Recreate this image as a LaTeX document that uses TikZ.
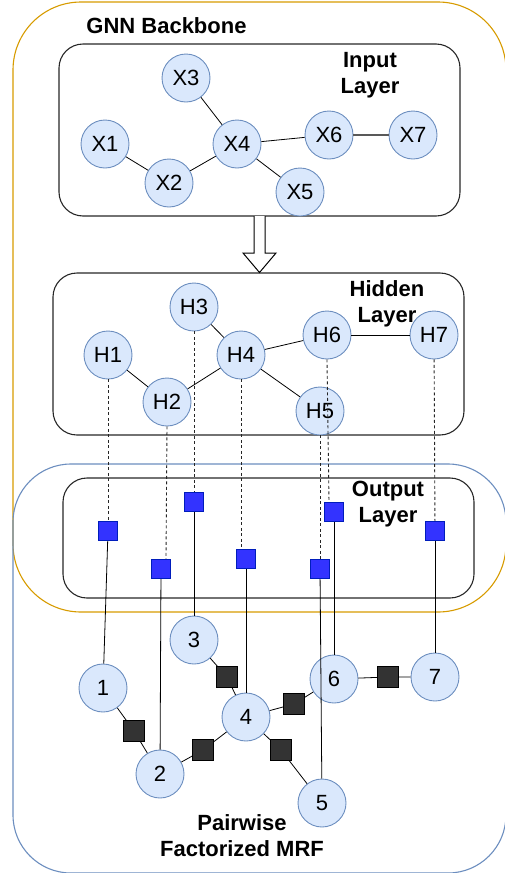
\documentclass[tikz,border=0pt]{standalone}
\usepackage{fontspec}
\setmainfont{Liberation Sans}
\usetikzlibrary{positioning}

\definecolor{varfill}{HTML}{DAE8FC}
\definecolor{varline}{HTML}{6C8EBF}
\definecolor{gnnorange}{HTML}{D79B00}
\definecolor{outblue}{HTML}{3333FF}
\definecolor{outblueline}{HTML}{001DBC}
\definecolor{factordark}{HTML}{333333}

\tikzset{
    var/.style={circle, draw=varline, fill=varfill, line width=0.9pt, minimum size=48pt, inner sep=0pt, font=\fontsize{22}{26}\selectfont},
    outsq/.style={rectangle, draw=outblueline, fill=outblue, line width=0.8pt, minimum size=19.5pt, inner sep=0pt},
    factor/.style={rectangle, draw=black, fill=factordark, line width=0.8pt, minimum size=20.5pt, inner sep=0pt},
    layerbox/.style={draw=black!85, line width=1.1pt, rounded corners=24pt},
    title/.style={font=\bfseries\fontsize{22}{26}\selectfont, align=center, inner sep=0pt},
    edge/.style={black, line width=0.8pt},
    dotline/.style={black!85, line width=0.9pt, dash pattern=on 3pt off 2.5pt}
}

\begin{document}
\begin{tikzpicture}[x=1pt, y=-1pt]
    \useasboundingbox (0,0) rectangle (505,873);

    % Outer frames
    \draw[gnnorange, line width=1.1pt, rounded corners=68pt] (13,2) rectangle (506,612);
    \draw[varline, line width=1.1pt, rounded corners=58pt] (13,464) rectangle (506,873);

    % Layers
    \draw[layerbox] (59,44) rectangle (460,216);
    \draw[layerbox] (53,273) rectangle (464,435);
    \draw[layerbox] (63,478) rectangle (474,598);

    % Hollow arrow between the layers
    \draw[line width=1pt, fill=white] (254,216) -- (254,253) -- (243,253) -- (259.5,272.5) -- (276,253) -- (265,253) -- (265,216);

    % Titles
    \node[title, anchor=base] (gnntitle) at (166.5,33) {GNN Backbone};
    \node[title] (inputtitle) at (370,75) {Input\\Layer};
    \node[title] (hiddentitle) at (387,304) {Hidden\\Layer};
    \node[title] (outputtitle) at (388,504) {Output\\Layer};
    \node[title] (mrftitle) at (242,836) {Pairwise\\Factorized MRF};

    % Input layer
    \node[var] (x1) at (105,144) {X1};
    \node[var] (x2) at (169,183) {X2};
    \node[var] (x3) at (186,78) {X3};
    \node[var] (x4) at (237,144) {X4};
    \node[var] (x5) at (300,192) {X5};
    \node[var] (x6) at (329,135) {X6};
    \node[var] (x7) at (413,135) {X7};

    % Hidden layer
    \node[var] (h1) at (108,355) {H1};
    \node[var] (h2) at (167,402) {H2};
    \node[var] (h3) at (194,307) {H3};
    \node[var] (h4) at (241,355) {H4};
    \node[var] (h5) at (320,411) {H5};
    \node[var] (h6) at (327,335) {H6};
    \node[var] (h7) at (434,335) {H7};

    % Output layer
    \node[outsq] (s1) at (108,531) {};
    \node[outsq] (s2) at (161,569) {};
    \node[outsq] (s3) at (194,502) {};
    \node[outsq] (s4) at (246,559) {};
    \node[outsq] (s5) at (320,569) {};
    \node[outsq] (s6) at (334,512) {};
    \node[outsq] (s7) at (435,531) {};

    % MRF variables and factors
    \node[var] (y1) at (103,688) {1};
    \node[var] (y2) at (160,774) {2};
    \node[var] (y3) at (194,640) {3};
    \node[var] (y4) at (246,717) {4};
    \node[var] (y5) at (322,803) {5};
    \node[var] (y6) at (334,679) {6};
    \node[var] (y7) at (435,677) {7};
    \node[factor] (f12) at (134,731) {};
    \node[factor] (f24) at (203,750) {};
    \node[factor] (f34) at (227,677) {};
    \node[factor] (f45) at (281,750) {};
    \node[factor] (f46) at (294,704) {};
    \node[factor] (f67) at (388,677) {};

    % Graph edges
    \foreach \a/\b in {x1/x2, x2/x4, x3/x4, x4/x5, x4/x6, h1/h2, h2/h4, h3/h4, h4/h5, h4/h6, h6/h7}
        \draw[edge] (\a) -- (\b);
    \draw[gray!70!black, line width=1.5pt] (x6) -- (x7);

    % Hidden to output
    \draw[dotline] (h1) -- (s1);
    \draw[dotline] (h2.south) -- ([xshift=5pt]s2.north);
    \draw[dotline] (h3) -- (s3);
    \draw[dotline] (h4.south) -- ([xshift=-5pt]s4.north);
    \draw[dotline] (h5) -- (s5);
    \draw[dotline] (h6.south) -- ([xshift=-5pt]s6.north);
    \draw[dotline] (h7) -- (s7);

    % Output to MRF
    \foreach \i in {1,...,7}
        \draw[edge] (s\i) -- (y\i);

    % Pairwise factors
    \foreach \a/\f/\b in {y1/f12/y2, y2/f24/y4, y3/f34/y4, y4/f45/y5, y4/f46/y6, y6/f67/y7}
        \draw[edge] (\a) -- (\f) -- (\b);
\end{tikzpicture}
\end{document}
